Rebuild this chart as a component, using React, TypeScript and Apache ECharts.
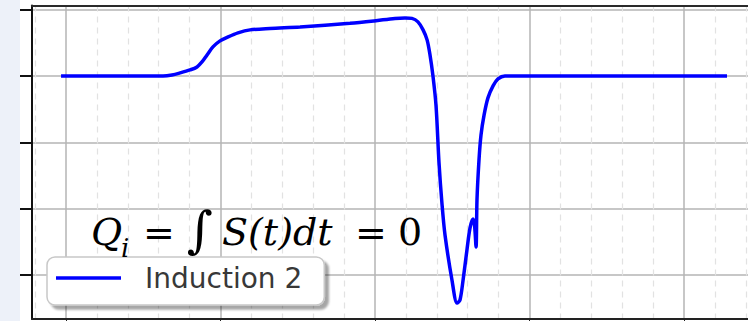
import { useEffect, useRef } from "react";
import * as echarts from "echarts";

// Time samples (t) and the induced signal S(t)
const timeValues = [
  -0.032, 0.628, 0.686, 0.738, 0.803, 0.848, 0.88, 0.913, 0.951, 0.997, 1.049,
  1.113, 1.191, 1.32, 1.515, 1.838, 1.994, 2.129, 2.194, 2.239, 2.278, 2.311,
  2.337, 2.356, 2.375, 2.395, 2.414, 2.434, 2.453, 2.498, 2.531, 2.55, 2.57,
  2.595, 2.615, 2.634, 2.644, 2.654, 2.66, 2.673, 2.686, 2.706, 2.731, 2.764,
  2.796, 2.841, 4.278,
];
const signalValues = [
  0, 0, 0.015, 0.045, 0.09, 0.135, 0.21, 0.316, 0.437, 0.527, 0.587, 0.648,
  0.693, 0.715, 0.738, 0.791, 0.828, 0.866, 0.873, 0.866, 0.813, 0.693, 0.542,
  0.316, 0, -0.45, -1.3, -1.943, -2.395, -3.072, -3.419, -3.373, -3.072,
  -2.62, -2.289, -2.154, -2.244, -2.575, -1.867, -1.265, -0.889, -0.587,
  -0.331, -0.151, -0.045, 0, 0,
];

const seriesName = "Induction 2";
const majorTicksX = [0, 1, 2, 3, 4];
const minorTicksX = [
  -0.2, 0.2, 0.4, 0.6, 0.8, 1.2, 1.4, 1.6, 1.8, 2.2, 2.4, 2.6, 2.8, 3.2, 3.4,
  3.6, 3.8, 4.2, 4.4,
];
const ticksY = [1, 0, -1, -2, -3];
const xRange = [-0.22, 4.414];
const yRange = [-3.66, 1.06];

const serif = "DejaVu Serif";

export default function App() {
  const ref = useRef<HTMLDivElement>(null);

  useEffect(() => {
    if (!ref.current) return;
    const chart = echarts.init(ref.current, undefined, { renderer: "svg" });
    const points = timeValues.map((t, i) => [t, signalValues[i]]);

    const mathText = (
      text: string,
      x: number,
      y: number,
      size: number,
      italic: boolean
    ) => ({
      type: "text",
      x,
      y,
      z: 10,
      style: {
        text,
        fill: "#000",
        font: `${italic ? "italic " : ""}${size}px "${serif}"`,
        verticalAlign: "middle",
        align: "left",
      },
    });

    chart.setOption({
      animation: false,
      backgroundColor: "#ffffff",
      grid: { left: 32, right: 0, top: 5.5, bottom: 2, containLabel: false },
      xAxis: [
        {
          type: "value",
          min: xRange[0],
          max: xRange[1],
          position: "bottom",
          axisLine: { show: true, onZero: false, lineStyle: { color: "#222", width: 2 } },
          axisTick: { show: true, customValues: majorTicksX, inside: false, length: 5, lineStyle: { color: "#222" } },
          axisLabel: { show: false },
          splitLine: { show: true, lineStyle: { color: "#b4b4b4", width: 1.5, type: "solid" } },
        },
        {
          type: "value",
          min: xRange[0],
          max: xRange[1],
          position: "top",
          axisLine: { show: true, onZero: false, lineStyle: { color: "#2a2a2a", width: 2 } },
          axisTick: { show: false, customValues: minorTicksX },
          axisLabel: { show: false },
          splitLine: { show: true, lineStyle: { color: "#e2e2e2", width: 1.2, type: [6, 5] } },
        },
      ],
      yAxis: {
        type: "value",
        min: yRange[0],
        max: yRange[1],
        axisLine: { show: true, onZero: false, lineStyle: { color: "#111", width: 2 } },
        axisTick: { show: true, customValues: ticksY, inside: false, length: 12, lineStyle: { color: "#111", width: 2 } },
        axisLabel: { show: false },
        splitLine: { show: true, lineStyle: { color: "#b4b4b4", width: 1.5 } },
      },
      legend: {
        data: [{ name: seriesName, icon: "rect" }],
        left: 47,
        top: 257,
        orient: "horizontal",
        padding: [6, 22, 12, 9],
        itemWidth: 65,
        itemHeight: 3.5,
        backgroundColor: "#ffffff",
        borderColor: "#c8c8c8",
        borderWidth: 1.5,
        borderRadius: 8,
        shadowColor: "rgba(0,0,0,0.35)",
        shadowBlur: 2,
        shadowOffsetX: 4,
        shadowOffsetY: 4,
        textStyle: {
          fontFamily: "DejaVu Sans",
          fontSize: 28,
          color: "#383838",
          lineHeight: 30,
          padding: [0, 0, 0, 19],
        },
      },
      series: [
        {
          name: seriesName,
          type: "line",
          data: points,
          symbol: "none",
          smooth: 0.3,
          xAxisIndex: 0,
          yAxisIndex: 0,
          lineStyle: { color: "#0000ff", width: 3.5 },
          itemStyle: { color: "#0000ff" },
        },
      ],
      graphic: [
        {
          type: "rect",
          left: 0,
          top: 0,
          z: -10,
          shape: { width: 20, height: 321 },
          style: { fill: "#edf1f9" },
        },
        mathText("Q", 91, 232, 38, true),
        mathText("i", 121, 248, 26, true),
        mathText("=", 143, 233, 38, false),
        mathText("∫", 187, 230, 50, false),
        mathText("S(t)dt", 222, 232, 38, true),
        mathText("=", 355, 233, 38, false),
        mathText("0", 398, 232, 38, false),
      ],
    });

    return () => chart.dispose();
  }, []);

  return (
    <div
      ref={ref}
      style={{ position: "fixed", left: 0, top: 0, width: 748, height: 321 }}
    />
  );
}
